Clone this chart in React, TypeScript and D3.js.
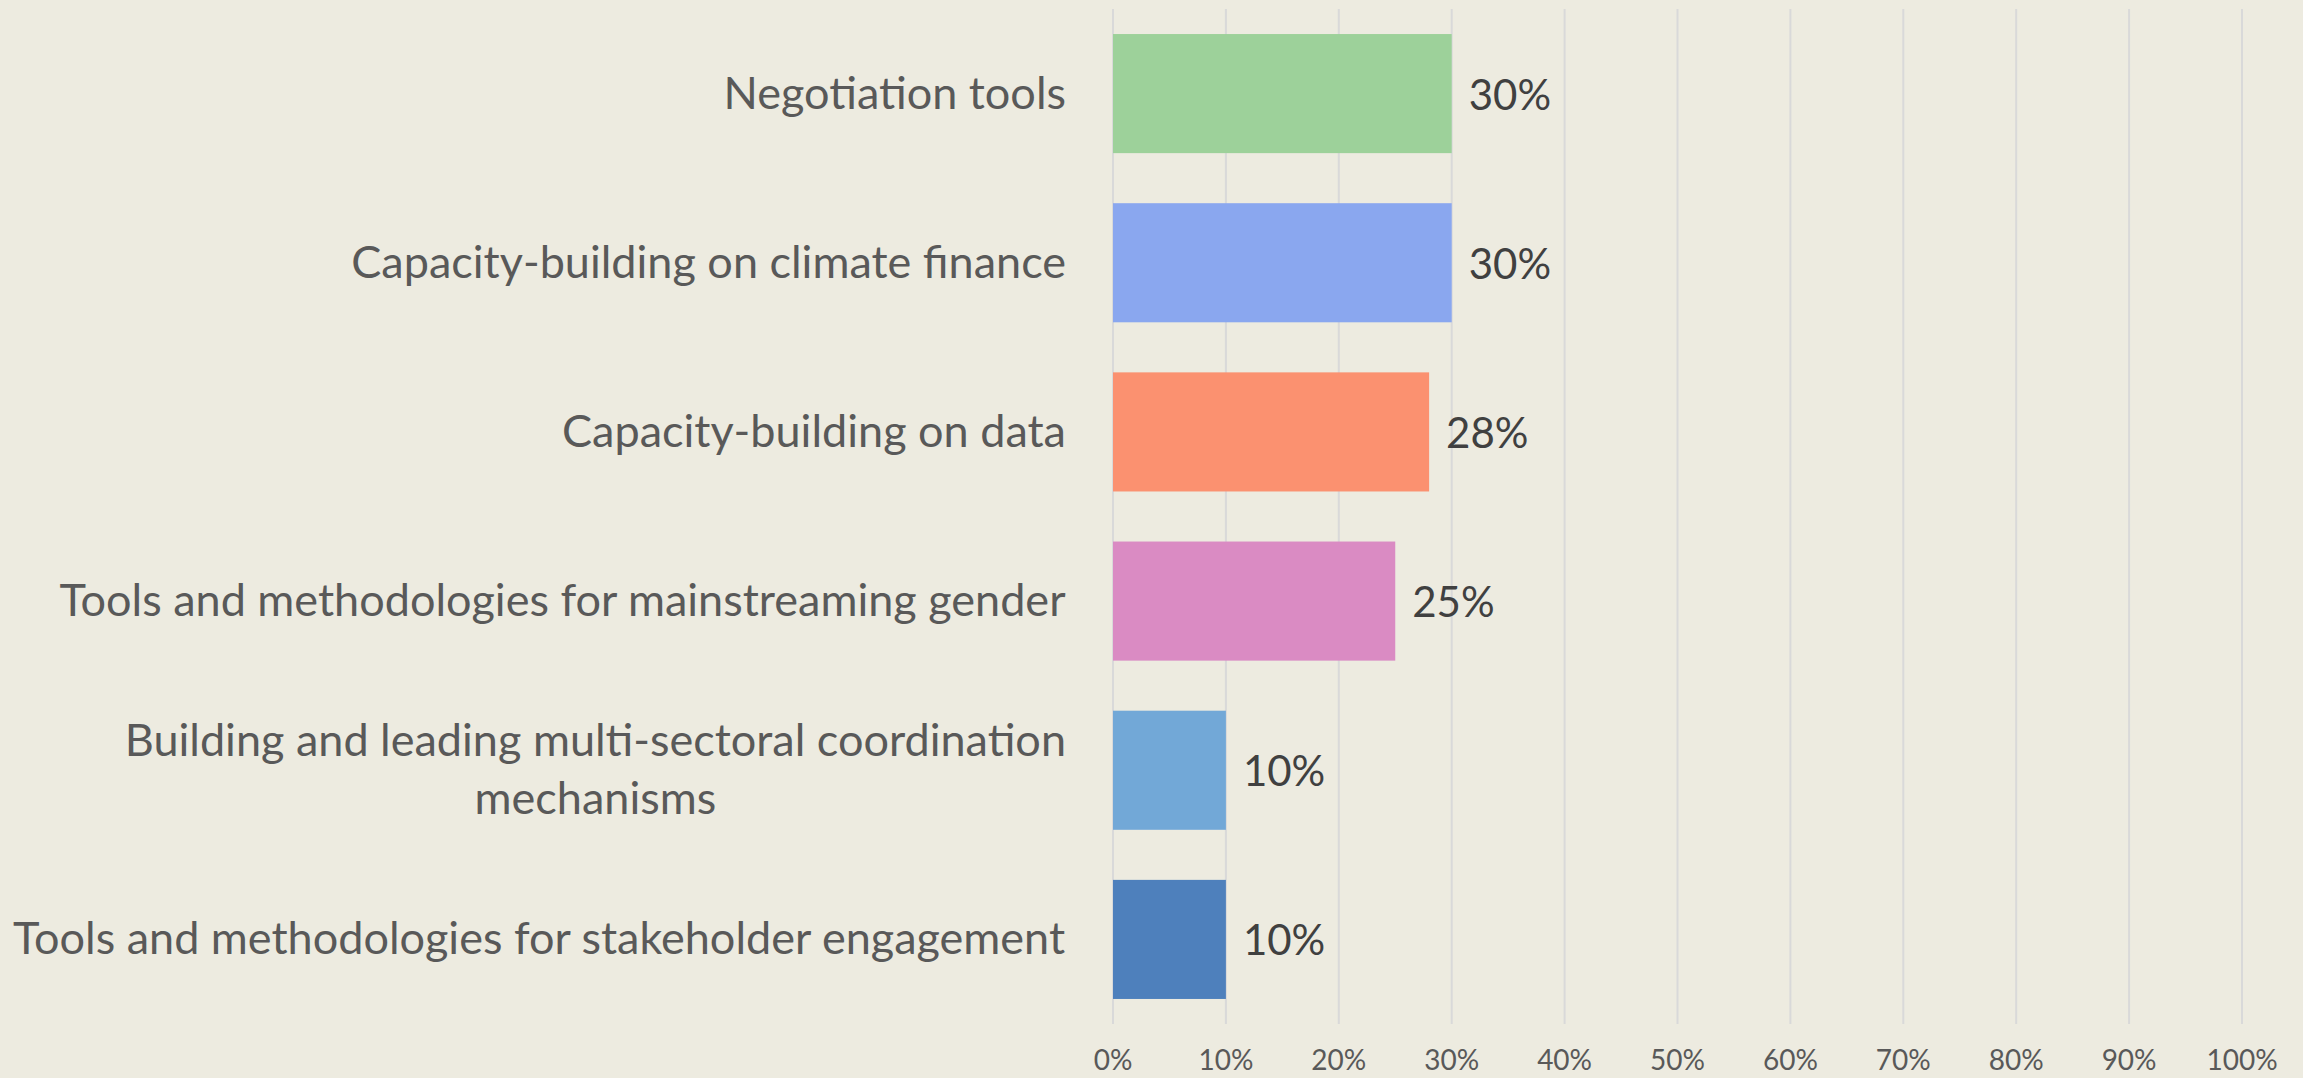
import React from 'react';
import * as d3 from 'd3';

// categories top to bottom, "\n" marks where the label wraps
const categories = [
    'Negotiation tools',
    'Capacity-building on climate finance',
    'Capacity-building on data',
    'Tools and methodologies for mainstreaming gender',
    'Building and leading multi-sectoral coordination\nmechanisms',
    'Tools and methodologies for stakeholder engagement'
];
const shares = [0.30, 0.30, 0.28, 0.25, 0.10, 0.10];
const barColors = ['#9dd19a', '#8aa7ef', '#fb9170', '#da8bc3', '#72a8d7', '#4e80bc'];
const tickValues = [0, 0.1, 0.2, 0.3, 0.4, 0.5, 0.6, 0.7, 0.8, 0.9, 1.0];

const width = 2303;
const height = 1078;
const font = 'Lato, "Open Sans", sans-serif';
const labelSize = 45;

// measure text with a canvas so wrapped labels can be centred inside a right-aligned block
let ctx = null;
function textWidth(s, size) {
    if (!ctx) ctx = document.createElement('canvas').getContext('2d');
    ctx.font = size + 'px ' + font;
    return ctx.measureText(s).width;
}

export default function App() {
    const x = d3.scaleLinear().domain([0, 1]).range([1113, 2242]);
    const y = d3.scaleBand()
        .domain(categories)
        .range([9, 1024])
        .paddingInner(0.296)
        .paddingOuter(0.148);
    const pct = d3.format('.0%');
    const labelRight = x(0) - 47;

    return (
        <div>
            <style>{'body{margin:0}'}</style>
            <svg width={width} height={height} style={{ display: 'block', background: '#edebe0' }}>
                <rect width={width} height={height} fill='#edebe0' />

                {/* vertical gridlines */}
                {tickValues.map(t => (
                    <line key={'g' + t}
                        x1={x(t)} x2={x(t)} y1={9} y2={1024}
                        stroke='#d9d9d9' strokeWidth={2} />
                ))}

                {/* tick labels */}
                {tickValues.map(t => (
                    <text key={'t' + t}
                        x={x(t)} y={1070}
                        textAnchor='middle'
                        fontFamily={font} fontSize={28}
                        fill='#595959'>{pct(t)}</text>
                ))}

                {categories.map((c, i) => {
                    const cy = y(c) + y.bandwidth() / 2;
                    const lines = c.split('\n');
                    const off = (lines.length - 1) * 29;
                    const blockW = d3.max(lines, l => textWidth(l, labelSize));
                    const mid = labelRight - blockW / 2;
                    return (
                        <g key={c}>
                            <rect x={x(0)} y={y(c)} width={x(shares[i]) - x(0)}
                                height={y.bandwidth()} fill={barColors[i]} />
                            <text x={x(shares[i]) + 17} y={cy + 16}
                                fontFamily={font} fontSize={42} fill='#404040'>
                                {pct(shares[i])}
                            </text>
                            <text textAnchor='middle' fontFamily={font} fontSize={labelSize} fill='#595959'>
                                {lines.map((l, k) => (
                                    <tspan key={k} x={mid}
                                        y={cy + 15 - off + k * 58}>{l}</tspan>
                                ))}
                            </text>
                        </g>
                    );
                })}
            </svg>
        </div>
    );
}
